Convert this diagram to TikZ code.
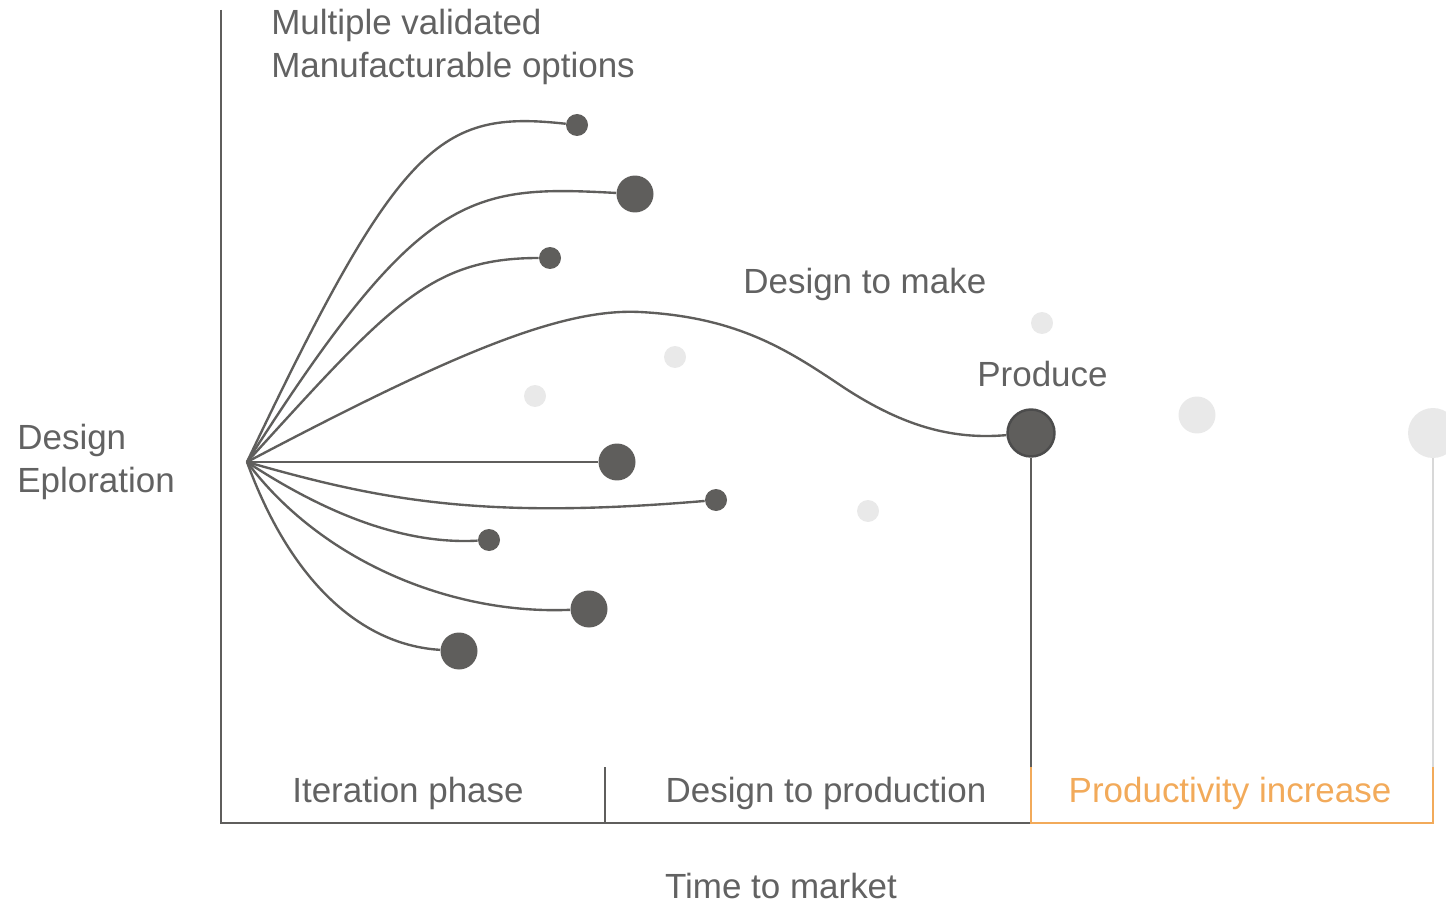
\documentclass[tikz,border=0pt]{standalone}
\usepackage{fontspec}
\setmainfont{Liberation Sans}

\definecolor{ink}{HTML}{5F5E5C}
\definecolor{txt}{HTML}{626262}
\definecolor{ghost}{HTML}{E9E9E9}
\definecolor{ghostline}{HTML}{D8D8D8}
\definecolor{accent}{HTML}{F2AA5A}

\tikzset{
  dot/.style={circle, fill=ink, inner sep=0pt, minimum size=0.44cm},
  bigdot/.style={dot, minimum size=0.74cm},
  faint/.style={circle, fill=ghost, inner sep=0pt, minimum size=0.44cm},
  proddot/.style={circle, fill=ink, draw=black!70, line width=1.4pt, inner sep=0pt, minimum size=0.94cm},
  lbl/.style={text=txt, font=\fontsize{19.9}{24}\selectfont, inner sep=0pt},
  branch/.style={draw=ink, line width=1.35pt},
  axisline/.style={draw=ink, line width=1.6pt},
}

\begin{document}
\begin{tikzpicture}[x=0.02cm, y=-0.02cm]
    \useasboundingbox (0,0) rectangle (1446,905);

    % axes and phase ticks
    \draw[axisline] (221,10) -- (221,823) -- (1031,823);
    \draw[axisline] (605,767) -- (605,823);
    \draw[accent, line width=1.6pt] (1031,767) -- (1031,823) -- (1433,823) -- (1433,767);

    % faded options in the background
    \node[faint] (f1) at (535,396) {};
    \node[faint] (f2) at (675,357) {};
    \node[faint] (f3) at (868,511) {};
    \node[faint] (f4) at (1042,323) {};
    \node[faint, minimum size=0.74cm] (f5) at (1197,415) {};
    \node[faint, minimum size=1.0cm] (f6) at (1433,433) {};
    \draw[ghostline, line width=1.6pt] (f6.south) -- (1433,767);

    % options
    \coordinate (root) at (247,462);
    \node[dot] (d1) at (577,125) {};
    \node[bigdot] (d2) at (635,194) {};
    \node[dot] (d3) at (550,258) {};
    \node[bigdot] (d4) at (617,462) {};
    \node[dot] (d5) at (716,500) {};
    \node[dot] (d6) at (489,540) {};
    \node[bigdot] (d7) at (589,609) {};
    \node[bigdot] (d8) at (459,651) {};
    \node[proddot] (prod) at (1031,433) {};

    \draw[branch] (root) .. controls (400,140) and (440,110) .. (d1);
    \draw[branch] (root) .. controls (420,190) and (470,185) .. (d2);
    \draw[branch] (root) .. controls (390,305) and (430,258) .. (d3);
    \draw[branch] (root) -- (d4);
    \draw[branch] (root) .. controls (380,500) and (480,520) .. (d5);
    \draw[branch] (root) .. controls (320,510) and (400,545) .. (d6);
    \draw[branch] (root) .. controls (320,560) and (450,615) .. (d7);
    \draw[branch] (root) .. controls (290,580) and (360,645) .. (d8);
    \draw[branch] (root) .. controls (450,355) and (560,308) .. (640,312)
        .. controls (735,317) and (785,348) .. (840,385)
        .. controls (900,425) and (950,440) .. (prod);
    \draw[axisline] (prod.south) -- (1031,767);

    % labels
    \node[lbl, anchor=west, align=left] (opts) at (271,47) {Multiple validated\\Manufacturable options};
    \node[lbl, anchor=west, align=left] (explore) at (17,462) {Design\\Eploration};
    \node[lbl, anchor=west] (make) at (743,284) {Design to make};
    \node[lbl, anchor=west] (produce) at (977,374) {Produce};
    \node[lbl] (iter) at (408,793) {Iteration phase};
    \node[lbl] (d2p) at (826,793) {Design to production};
    \node[lbl, text=accent] (gain) at (1230,793) {Productivity increase};
    \node[lbl] (ttm) at (781,886) {Time to market};
\end{tikzpicture}
\end{document}
